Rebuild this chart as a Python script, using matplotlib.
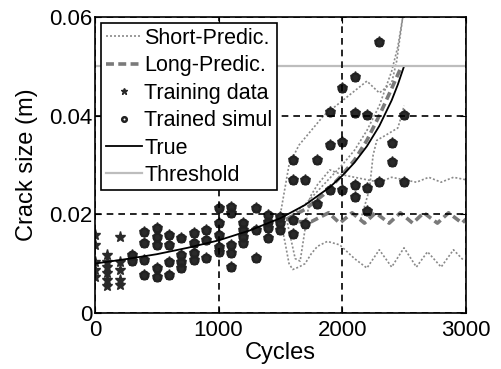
import matplotlib
matplotlib.use("Agg")
from matplotlib import pyplot as plt

plt.rcParams['font.family'] = ['Liberation Sans', 'DejaVu Sans']

# true crack growth curve
true_cycles = [0, 250, 500, 750, 1000, 1250, 1500, 1700, 1900, 2000, 2100, 2200, 2300, 2400, 2450, 2500]
true_size = [0.0100, 0.0109, 0.0119, 0.0132, 0.0147, 0.0167, 0.0192, 0.0219, 0.0255, 0.0278,
             0.0305, 0.0338, 0.0379, 0.0431, 0.0463, 0.0500]

threshold = 0.05

# measurement data (cycle -> crack sizes)
data_cycles = [0, 100, 200, 300, 400, 500, 600, 700, 800, 900, 1000, 1100, 1200, 1300,
               1400, 1500, 1600, 1700, 1800, 1900, 2000, 2100, 2200, 2300, 2400, 2500]
data_sizes = [
    [0.0158, 0.0138, 0.0103, 0.0087, 0.0073],
    [0.0118, 0.0103, 0.0093, 0.0081, 0.0067, 0.0055],
    [0.0154, 0.0103, 0.0087, 0.0067, 0.0057],
    [0.0118, 0.0105],
    [0.0164, 0.0142, 0.0107, 0.0077],
    [0.0172, 0.0154, 0.0138, 0.0091, 0.0073],
    [0.0158, 0.0138, 0.0103, 0.0077],
    [0.0152, 0.0118, 0.0103, 0.0091],
    [0.0162, 0.0142, 0.0122, 0.0107],
    [0.0168, 0.0148, 0.0111],
    [0.0213, 0.0182, 0.0158, 0.0134, 0.0124],
    [0.0215, 0.0203, 0.0138, 0.0122, 0.0093],
    [0.0182, 0.0168, 0.0154, 0.0142],
    [0.0213, 0.0168, 0.0111],
    [0.0199, 0.0184, 0.0172, 0.0152],
    [0.0195, 0.0182, 0.0168],
    [0.0310, 0.0270, 0.0189, 0.0160],
    [0.0270, 0.0180],
    [0.0310, 0.0220],
    [0.0407, 0.0340, 0.0250],
    [0.0456, 0.0347, 0.0250],
    [0.0478, 0.0405, 0.0260, 0.0235],
    [0.0401, 0.0253, 0.0207],
    [0.0550, 0.0266],
    [0.0345, 0.0306],
    [0.0401, 0.0265],
]
sim_start = 300  # trained simulation shown from this cycle on

# short-term prediction (dotted)
short_upper_x = [1500, 1570, 1650, 1750, 1850, 1950, 2050, 2200, 2300, 2400, 2440, 2490]
short_upper_y = [0.020, 0.030, 0.034, 0.037, 0.040, 0.042, 0.044, 0.047, 0.0446, 0.0466, 0.051, 0.060]
short_mid_x = [1550, 1700, 1850, 2000, 2100, 2200, 2300, 2400, 2450, 2490]
short_mid_y = [0.019, 0.022, 0.026, 0.030, 0.033, 0.037, 0.042, 0.049, 0.054, 0.060]
short_side_x = [2150, 2220, 2250, 2280, 2350, 2450, 2480, 2500]
short_side_y = [0.019, 0.025, 0.032, 0.035, 0.036, 0.0375, 0.040, 0.042]
short_band_x = [1550, 1620, 1660, 1700, 1740, 1800, 1900, 2000, 2100, 2200, 2300, 2400,
                2500, 2600, 2700, 2800, 2900, 3000]
short_band_y = [0.019, 0.011, 0.0105, 0.017, 0.0235, 0.026, 0.029, 0.028, 0.0275, 0.027,
                0.0265, 0.0275, 0.027, 0.0265, 0.0275, 0.0265, 0.0275, 0.027]
short_lower_x = [1500, 1540, 1570, 1600, 1650, 1700, 1750, 1800, 1880, 1980, 2100, 2200,
                 2300, 2400, 2500, 2600, 2690, 2800, 2900, 2980]
short_lower_y = [0.019, 0.014, 0.010, 0.0088, 0.0093, 0.010, 0.012, 0.0135, 0.0145, 0.0138,
                 0.011, 0.0091, 0.0128, 0.0093, 0.0132, 0.0093, 0.0124, 0.0093, 0.0128, 0.0107]

# long-term prediction (thick dashed)
long_mid_x = [1550, 1700, 1850, 2000, 2100, 2200, 2300, 2400, 2480]
long_mid_y = [0.019, 0.021, 0.024, 0.028, 0.031, 0.035, 0.040, 0.0455, 0.050]
long_lower_x = [1550, 1650, 1750, 1890, 1980, 2080, 2180, 2270, 2380, 2470, 2570, 2660,
                2770, 2860, 2970, 3000]
long_lower_y = [0.019, 0.0185, 0.0185, 0.0203, 0.0182, 0.0203, 0.0182, 0.0203, 0.0182,
                0.0203, 0.0182, 0.0203, 0.0182, 0.0203, 0.0182, 0.019]

fig = plt.figure(figsize=(5.02, 3.69), dpi=100)
ax = fig.add_axes([0.189, 0.152, 0.739, 0.802])

short_kw = dict(color='#8a8a8a', linestyle=(0, (1.2, 1.2)), linewidth=1.2)
long_kw = dict(color='#7a7a7a', linestyle=(0, (2.2, 1.2)), linewidth=2.6)

ax.plot(short_upper_x, short_upper_y, label='Short-Predic.', **short_kw)
ax.plot(short_mid_x, short_mid_y, **short_kw)
ax.plot(short_side_x, short_side_y, **short_kw)
ax.plot(short_band_x, short_band_y, **short_kw)
ax.plot(short_lower_x, short_lower_y, **short_kw)
ax.plot(long_mid_x, long_mid_y, label='Long-Predic.', **long_kw)
ax.plot(long_lower_x, long_lower_y, **long_kw)

tx, ty, sx, sy = [], [], [], []
for c, vals in zip(data_cycles, data_sizes):
    for v in vals:
        tx.append(c)
        ty.append(v)
        if c >= sim_start:
            sx.append(c)
            sy.append(v)

ax.plot(tx, ty, linestyle='none', marker='*', markersize=8, color='#2a2a2a',
        markeredgecolor='#2a2a2a', label='Training data')
ax.plot(sx, sy, linestyle='none', marker='o', markersize=5.5, markerfacecolor='none',
        markeredgecolor='#222222', markeredgewidth=1.8, label='Trained simul')
ax.plot(true_cycles, true_size, color='black', linewidth=1.3, label='True')
ax.axhline(threshold, color='#bdbdbd', linewidth=1.6, label='Threshold')

ax.set_xlim(0, 3000)
ax.set_ylim(0, 0.06)
ax.set_xticks([0, 1000, 2000, 3000])
ax.set_yticks([0, 0.02, 0.04, 0.06])
ax.set_yticklabels(['0', '0.02', '0.04', '0.06'])
ax.tick_params(direction='in', labelsize=16, top=True, right=True, length=4, pad=2)
ax.tick_params(axis='x', pad=5)
ax.grid(True, color='black', linestyle=(0, (4, 3)), linewidth=1.2)
ax.set_axisbelow(False)
for s in ax.spines.values():
    s.set_linewidth(1.2)

ax.set_xlabel('Cycles', fontsize=17, labelpad=1)
ax.set_ylabel('Crack size (m)', fontsize=17, labelpad=8)

leg = ax.legend(loc='upper left', fontsize=15.5, handlelength=1.7, handletextpad=0.1,
                labelspacing=0.3, borderpad=0.2, borderaxespad=0.3, fancybox=False,
                edgecolor='black', framealpha=1, markerscale=0.6)
leg.get_frame().set_linewidth(1.2)

fig.savefig('out.png', dpi=100)
